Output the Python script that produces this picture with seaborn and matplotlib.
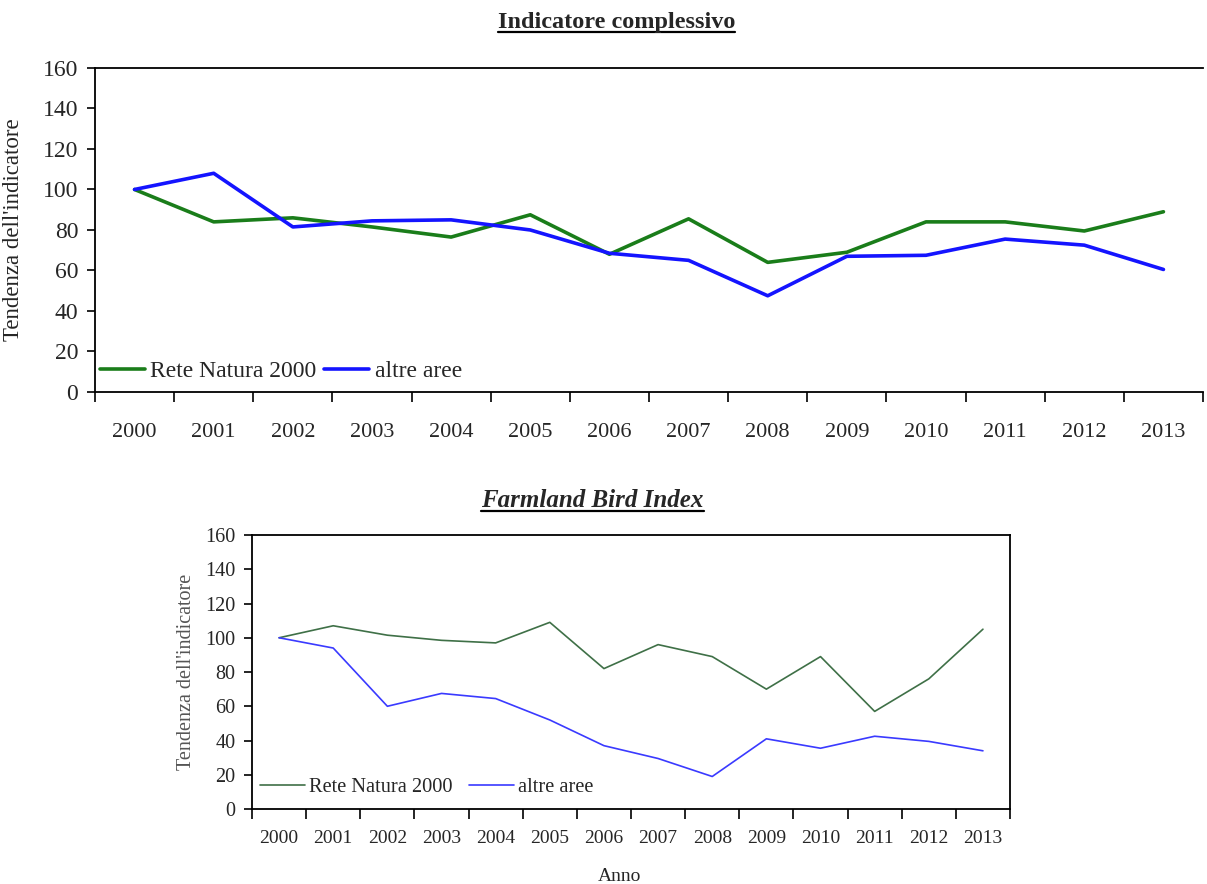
import matplotlib
matplotlib.use("Agg")
import matplotlib.pyplot as plt
import seaborn as sns
import numpy as np
import pandas as pd
from matplotlib.lines import Line2D

# anni
anni = [str(a) for a in range(2000, 2014)]

# Indicatore complessivo
natura_tot = [100, 84, 86, 81.5, 76.5, 87.5, 68, 85.5, 64, 69, 84, 84, 79.5, 89]
altre_tot = [100, 108, 81.5, 84.5, 85, 80, 68.5, 65, 47.5, 67, 67.5, 75.5, 72.5, 60.5]

# Farmland Bird Index
natura_fbi = [100, 107, 101.5, 98.5, 97, 109, 82, 96, 89, 70, 89, 57, 76, 105]
altre_fbi = [100, 94, 60, 67.5, 64.5, 52, 37, 29.5, 19, 41, 35.5, 42.5, 39.5, 34]

sns.set_style("white")
plt.rcParams['font.family'] = ['Liberation Serif', 'DejaVu Serif']

fig = plt.figure(figsize=(12.07, 8.84), dpi=100)
ax1 = fig.add_axes([0.0787, 0.5566, 0.918, 0.3665])
ax2 = fig.add_axes([0.2088, 0.0848, 0.628, 0.31])


def disegna(ax, natura, altre, c_nat, c_alt, lw, fs, fs_y, pad_x):
    df = pd.DataFrame({'pos': np.arange(len(anni)), 'natura': natura, 'altre': altre})
    sns.lineplot(data=df, x='pos', y='natura', ax=ax, color=c_nat, linewidth=lw,
                 label='Rete Natura 2000')
    sns.lineplot(data=df, x='pos', y='altre', ax=ax, color=c_alt, linewidth=lw,
                 label='altre aree')
    ax.set_xlim(-0.5, len(anni) - 0.5)
    ax.set_ylim(0, 160)
    ax.set_yticks(range(0, 161, 20))
    ax.set_xticks(range(len(anni)))
    ax.set_xticklabels(anni)
    ax.set_xticks(np.arange(-0.5, len(anni), 1), minor=True)
    ax.tick_params(axis='x', which='major', length=0, pad=pad_x, labelsize=fs)
    ax.tick_params(axis='x', which='minor', length=7, width=1.2, direction='out',
                   color='black', bottom=True)
    ax.tick_params(axis='y', length=6, width=1.2, direction='out', color='black',
                   left=True, pad=6, labelsize=fs_y)
    for s in ax.spines.values():
        s.set_color('black')
        s.set_linewidth(1.3)
    ax.set_xlabel('')


# grafico superiore
disegna(ax1, natura_tot, altre_tot, '#1a7d1a', '#1414ff', 2.6, 16, 17, 22)
ax1.spines['right'].set_visible(False)
ax1.set_ylabel("Tendenza dell'indicatore", fontsize=16.5)
ax1.yaxis.set_label_coords(-0.064, 0.5)
ax1.legend(loc='center left', bbox_to_anchor=(0.0, 0.064), frameon=False, ncol=2,
           fontsize=17, handlelength=1.9, handletextpad=0.25, columnspacing=0.3,
           borderaxespad=0, borderpad=0.2)

# grafico inferiore
disegna(ax2, natura_fbi, altre_fbi, '#3f7047', '#3a3aff', 1.2, 14, 14.5, 15)
ax2.set_ylabel("Tendenza dell'indicatore", fontsize=14.5, color='#555555')
ax2.yaxis.set_label_coords(-0.074, 0.5)
ax2.set_xlabel('Anno', fontsize=14)
ax2.xaxis.set_label_coords(0.485, -0.215)
ax2.legend(loc='center left', bbox_to_anchor=(0.005, 0.078), frameon=False, ncol=2,
           fontsize=14.7, handlelength=2.2, handletextpad=0.2, columnspacing=0.8,
           borderaxespad=0, borderpad=0.2)

# titoli sottolineati
t1 = fig.text(0.511, 0.975, 'Indicatore complessivo', ha='center', va='center',
              fontsize=17.5, fontweight='bold')
t2 = fig.text(0.491, 0.434, 'Farmland Bird Index', ha='center', va='center',
              fontsize=18, fontweight='bold', fontstyle='italic')

fig.canvas.draw()
r = fig.canvas.get_renderer()
inv = fig.transFigure.inverted()
for t in (t1, t2):
    bb = t.get_window_extent(renderer=r).transformed(inv)
    fig.add_artist(Line2D([bb.x0, bb.x1], [bb.y0 + 0.001, bb.y0 + 0.001],
                          transform=fig.transFigure, color='black', linewidth=1.6))

fig.savefig('out.png', dpi=100, facecolor='white')
